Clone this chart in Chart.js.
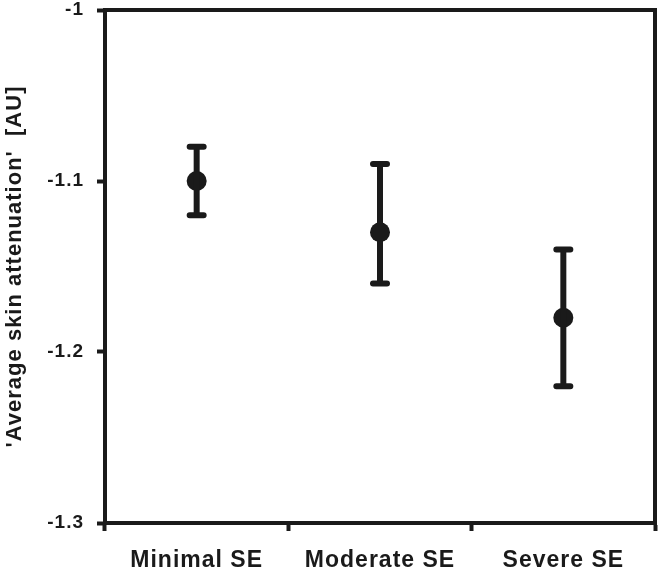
<!DOCTYPE html>
<html>
<head>
<meta charset="utf-8">
<script src="https://cdn.jsdelivr.net/npm/chart.js@4.4.1/dist/chart.umd.min.js"></script>
<style>
  html, body { margin: 0; padding: 0; background: #ffffff; }
  #wrap { width: 665px; height: 568px; position: relative; }
</style>
</head>
<body>
<div id="wrap"><canvas id="c"></canvas></div>
<script>
const categories = ['Minimal SE', 'Moderate SE', 'Severe SE'];
const meanValues = [-1.10, -1.13, -1.18];
const upperValues = [-1.08, -1.09, -1.14];
const lowerValues = [-1.12, -1.16, -1.22];
const yTickValues = [-1.3, -1.2, -1.1, -1.0];
const yTickLabels = ['-1.3', '-1.2', '-1.1', '-1'];
const yTitle = "'Average skin attenuation'  [AU]";

const INK = '#1a1a1a';
const FONT = "'Liberation Sans', Arial, Helvetica, sans-serif";

const spacingPlugin = {
  id: 'spacing',
  beforeInit(chart) { chart.ctx.letterSpacing = '1px'; },
  beforeUpdate(chart) { chart.ctx.letterSpacing = '1px'; },
  beforeDraw(chart) { chart.ctx.letterSpacing = '1px'; }
};

const errorBarPlugin = {
  id: 'errorBars',
  afterDatasetsDraw(chart) {
    const ctx = chart.ctx;
    const xs = chart.scales.x, ys = chart.scales.y;
    ctx.save();
    ctx.strokeStyle = INK;
    ctx.lineWidth = 6;
    ctx.lineCap = 'round';
    categories.forEach((c, i) => {
      const x = xs.getPixelForValue(i);
      const yt = ys.getPixelForValue(upperValues[i]);
      const yb = ys.getPixelForValue(lowerValues[i]);
      ctx.beginPath();
      ctx.moveTo(x, yt); ctx.lineTo(x, yb);
      ctx.moveTo(x - 7, yt); ctx.lineTo(x + 7, yt);
      ctx.moveTo(x - 7, yb); ctx.lineTo(x + 7, yb);
      ctx.stroke();
    });
    ctx.restore();
  }
};

const framePlugin = {
  id: 'frame',
  afterDraw(chart) {
    const a = chart.chartArea, ctx = chart.ctx;
    ctx.save();
    ctx.strokeStyle = INK;
    ctx.lineWidth = 4;
    ctx.lineCap = 'square';
    ctx.beginPath();
    ctx.moveTo(a.left, a.top); ctx.lineTo(a.right, a.top); ctx.lineTo(a.right, a.bottom);
    ctx.stroke();
    ctx.restore();
  }
};

new Chart(document.getElementById('c'), {
  type: 'line',
  data: {
    labels: categories,
    datasets: [{
      data: meanValues,
      showLine: false,
      pointRadius: 10,
      pointHoverRadius: 10,
      pointBackgroundColor: INK,
      pointBorderColor: INK,
      pointBorderWidth: 0
    }]
  },
  options: {
    responsive: true,
    maintainAspectRatio: false,
    devicePixelRatio: 1,
    animation: false,
    layout: { padding: { top: 8, right: 4, left: 0, bottom: 0 } },
    plugins: { legend: { display: false }, tooltip: { enabled: false } },
    scales: {
      x: {
        type: 'category',
        offset: true,
        afterFit(s) { s.height = 45; s.paddingLeft = 0; s.paddingRight = 0; },
        grid: { offset: true, drawOnChartArea: false, drawTicks: true, tickLength: 8, tickWidth: 4, tickColor: INK },
        border: { display: true, color: INK, width: 4 },
        ticks: { color: INK, font: { family: FONT, size: 23, weight: 'bold' }, padding: 16, maxRotation: 0 }
      },
      y: {
        type: 'linear',
        min: -1.3,
        max: -1.0,
        afterFit(s) { s.width = 105; s.paddingTop = 0; s.paddingBottom = 0; },
        afterBuildTicks(s) { s.ticks = yTickValues.map(v => ({ value: v })); },
        grid: { drawOnChartArea: false, drawTicks: true, tickLength: 8, tickWidth: 4, tickColor: INK },
        border: { display: true, color: INK, width: 4 },
        ticks: {
          color: INK,
          font: { family: FONT, size: 19, weight: 'bold' },
          padding: 13,
          callback(v) { const i = yTickValues.findIndex(t => Math.abs(t - v) < 1e-9); return i >= 0 ? yTickLabels[i] : ''; }
        },
        title: {
          display: true,
          text: yTitle,
          color: INK,
          font: { family: FONT, size: 22, weight: 'bold' },
          padding: { top: 2, bottom: 0 }
        }
      }
    }
  },
  plugins: [spacingPlugin, errorBarPlugin, framePlugin]
});
</script>
</body>
</html>
